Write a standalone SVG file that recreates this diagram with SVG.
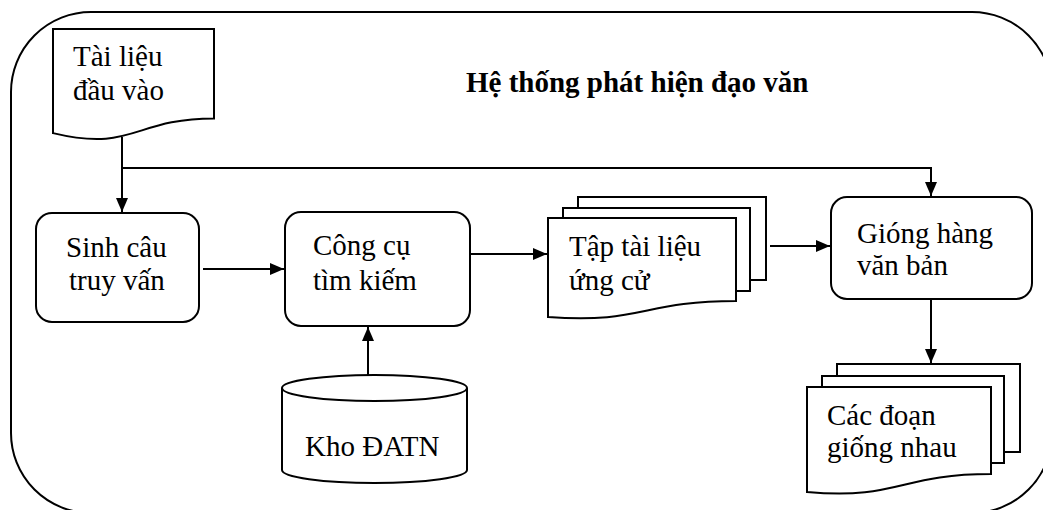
<svg xmlns="http://www.w3.org/2000/svg" width="1043" height="510" viewBox="0 0 1043 510">
<style>
.shape{fill:#fff;stroke:#000;stroke-width:2}
.frame{fill:none;stroke:#000;stroke-width:2}
.conn{fill:none;stroke:#000;stroke-width:2}
text{font-family:"Liberation Serif","Tinos","DejaVu Serif",serif;font-size:29px;fill:#000}
.title{font-weight:bold}
</style>
<defs>
<marker id="arr" markerUnits="userSpaceOnUse" markerWidth="14" markerHeight="12" refX="14" refY="6" orient="auto">
<path d="M0,0 L14,6 L0,12 z" fill="#000"/>
</marker>
</defs>
<rect id="frame" class="frame" x="11" y="12" width="1041" height="501" rx="80" ry="80"/>
<text class="title" x="466" y="92">Hệ thống phát hiện đạo văn</text>
<g id="input-doc">
<path class="shape" d="M53,29 H214 V118.4 C133.5,118.4 133.5,152.4 53,133.1 Z"/>
<text x="73" y="66">Tài liệu</text>
<text x="73" y="100">đầu vào</text>
</g>
<g id="sinh-cau">
<rect class="shape" x="36" y="213" width="163" height="109" rx="16"/>
<text x="66" y="257">Sinh câu</text>
<text x="69" y="290">truy vấn</text>
</g>
<g id="cong-cu">
<rect class="shape" x="285" y="212" width="185" height="114" rx="16"/>
<text x="313" y="255">Công cụ</text>
<text x="313" y="290">tìm kiếm</text>
</g>
<g id="kho-datn">
<path class="shape" d="M282,388 V470 A92.5,13 0 0 0 467,470 V388"/>
<ellipse class="shape" cx="374.5" cy="388" rx="92.5" ry="13"/>
<text x="305" y="456">Kho ĐATN</text>
</g>
<g id="tap-tai-lieu">
<rect class="shape" x="578" y="197" width="188" height="83"/>
<rect class="shape" x="563" y="208" width="187" height="83"/>
<path class="shape" d="M548,218 H736 V301 C642,301 642,324 548,317 Z"/>
<text x="569" y="256">Tập tài liệu</text>
<text x="569" y="290">ứng cử</text>
</g>
<g id="giong-hang">
<rect class="shape" x="831" y="197" width="201" height="102" rx="16"/>
<text x="857" y="243">Gióng hàng</text>
<text x="857" y="275">văn bản</text>
</g>
<g id="cac-doan">
<rect class="shape" x="837" y="364" width="183" height="88"/>
<rect class="shape" x="822" y="376" width="182" height="87"/>
<path class="shape" d="M807,387 H991 V474 C899,474 899,500 807,492 Z"/>
<text x="827" y="425">Các đoạn</text>
<text x="827" y="457">giống nhau</text>
</g>
<g id="connectors">
<path class="conn" d="M122,137 V212" marker-end="url(#arr)"/>
<path class="conn" d="M122,168 H931 V196" marker-end="url(#arr)"/>
<path class="conn" d="M203,269 H284" marker-end="url(#arr)"/>
<path class="conn" d="M470,254 H547" marker-end="url(#arr)"/>
<path class="conn" d="M368,375 V327" marker-end="url(#arr)"/>
<path class="conn" d="M770,246 H830" marker-end="url(#arr)"/>
<path class="conn" d="M931,299 V363" marker-end="url(#arr)"/>
</g>
</svg>
